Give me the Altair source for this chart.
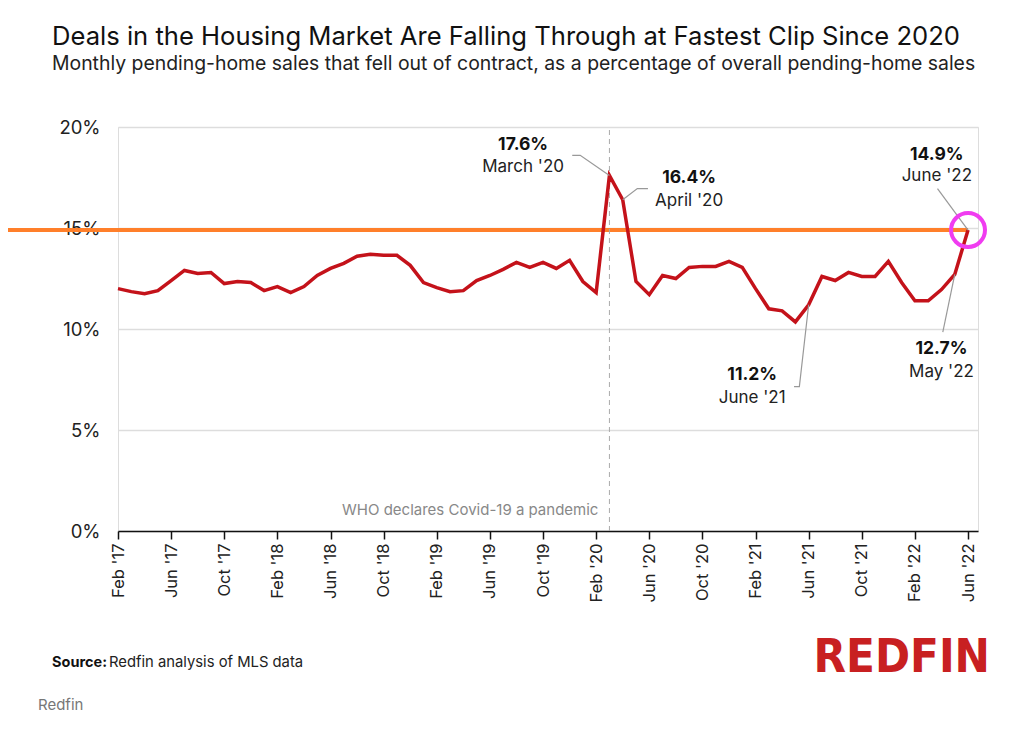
import altair as alt
import pandas as pd

# ---------------- data ----------------
month_labels = list(pd.date_range("2017-02-01", periods=65, freq="MS").strftime("%b '%y"))
fallout_pct = [
    12.0, 11.85, 11.75, 11.9, 12.4, 12.9, 12.75, 12.8, 12.25, 12.35, 12.3,   # Feb'17-Dec'17
    11.9, 12.1, 11.8, 12.1, 12.65, 13.0, 13.25, 13.6, 13.7, 13.65, 13.65, 13.15,  # 2018
    12.3, 12.05, 11.85, 11.9, 12.4, 12.65, 12.95, 13.3, 13.05, 13.3, 13.0, 13.4,  # 2019
    12.35, 11.8, 17.6, 16.4, 12.35, 11.7, 12.65, 12.5, 13.05, 13.1, 13.1, 13.35,  # 2020
    13.05, 12.0, 11.0, 10.9, 10.35, 11.2, 12.6, 12.4, 12.8, 12.6, 12.6, 13.35,    # 2021
    12.3, 11.4, 11.4, 11.95, 12.7, 14.9,                                           # 2022
]
tick_labels = ["Feb '17", "Jun '17", "Oct '17", "Feb '18", "Jun '18", "Oct '18",
               "Feb '19", "Jun '19", "Oct '19", "Feb '20", "Jun '20", "Oct '20",
               "Feb '21", "Jun '21", "Oct '21", "Feb '22", "Jun '22"]
y_ticks = [0, 5, 10, 15, 20]

# annotations: bold value, date label, x (month index), y of value line, y of date line
ann_value = ["17.6%", "16.4%", "14.9%", "12.7%", "11.2%"]
ann_date = ["March '20", "April '20", "June '22", "May '22", "June '21"]
ann_x = [30.5, 43.0, 61.65, 62.0, 47.75]
ann_y1 = [19.1, 17.5, 18.6, 9.0, 7.72]
ann_y2 = [18.0, 16.35, 17.55, 7.87, 6.58]

# leader lines (group, x index, y value) in drawing order
lead_group = ["a", "a", "a", "b", "b", "b", "c", "c", "d", "d", "e", "e", "e"]
lead_x = [34.2, 34.8, 37.0, 39.9, 39.1, 38.0, 61.7, 64.0, 63.0, 62.1, 52.0, 51.3, 50.9]
lead_y = [18.6, 18.6, 17.6, 16.95, 16.95, 16.4, 16.95, 14.9, 12.7, 9.85, 11.2, 7.15, 7.15]

who_x = 37          # March '20
highlight_x = 64    # June '22
highlight_y = 14.9

FONT = "Inter"
df = pd.DataFrame({"idx": range(len(fallout_pct)), "month": month_labels, "pct": fallout_pct})
ann_df = pd.DataFrame({"v": ann_value, "d": ann_date, "x": ann_x, "y1": ann_y1, "y2": ann_y2})
lead_df = pd.DataFrame({"g": lead_group, "o": range(len(lead_x)), "x": lead_x, "y": lead_y})

label_expr = "[" + ",".join('"%s"' % t for t in tick_labels) + "][round(datum.value/4)]"

xscale = alt.Scale(domain=[0, 64.75], nice=False, zero=False)
yscale = alt.Scale(domain=[0, 20], nice=False)

base = alt.Chart(df)

line = base.mark_line(color="#c4121a", strokeWidth=3.5, strokeJoin="miter").encode(
    x=alt.X("idx:Q", scale=xscale, title=None,
            axis=alt.Axis(values=list(range(0, 65, 4)), labelExpr=label_expr,
                          labelAngle=270, grid=False, domainColor="#111", domainWidth=1.5,
                          tickColor="#111", tickWidth=1.5, tickSize=8, labelPadding=4,
                          labelFontSize=16.5, labelColor="#222", labelFont=FONT)),
    y=alt.Y("pct:Q", scale=yscale, title=None,
            axis=alt.Axis(values=y_ticks, labelExpr="datum.value + '%'", domain=False,
                          ticks=False, grid=True, gridColor="#dddddd", gridWidth=1.5,
                          labelPadding=18, labelFontSize=18.5, labelColor="#222",
                          labelFont=FONT)),
    tooltip=["month:N", "pct:Q"],
)

one = alt.Data(values=[{}])

who_rule = alt.Chart(one).mark_rule(color="#aaaaaa", strokeDash=[5, 4], strokeWidth=1).encode(
    x=alt.datum(who_x, type="quantitative"),
    y=alt.datum(0, type="quantitative"),
    y2=alt.datum(20),
)
who_text = alt.Chart(one).mark_text(
    text="WHO declares Covid-19 a pandemic", align="right", baseline="middle",
    dx=-11, fontSize=15, color="#888888", font=FONT,
).encode(x=alt.datum(who_x, type="quantitative"), y=alt.datum(1.05, type="quantitative"))

orange = alt.Chart(one).mark_rule(color="#ff7f2a", strokeWidth=4).encode(
    x=alt.datum(-8.9, type="quantitative"),
    x2=alt.datum(highlight_x),
    y=alt.datum(highlight_y, type="quantitative"),
)

leaders = alt.Chart(lead_df).mark_line(color="#999999", strokeWidth=1.2).encode(
    x="x:Q", y="y:Q", detail="g:N", order="o:Q")

ann_bold = alt.Chart(ann_df).mark_text(fontSize=17.5, fontWeight="bold", color="#111",
                                       baseline="middle", font=FONT).encode(
    x="x:Q", y="y1:Q", text="v:N")
ann_norm = alt.Chart(ann_df).mark_text(fontSize=17, color="#222",
                                       baseline="middle", font=FONT).encode(
    x="x:Q", y="y2:Q", text="d:N")

circle = alt.Chart(one).mark_point(shape="circle", size=1150, filled=False,
                                   color="#f03cf0", strokeWidth=4, opacity=1).encode(
    x=alt.datum(highlight_x, type="quantitative"),
    y=alt.datum(highlight_y, type="quantitative"),
)


def txt(s, x, y, **kw):
    return alt.Chart(one).mark_text(text=s, align=kw.pop("align", "left"),
                                    baseline=kw.pop("baseline", "alphabetic"),
                                    font=kw.pop("font", FONT), **kw).encode(
        x=alt.value(x), y=alt.value(y))


title = txt("Deals in the Housing Market Are Falling Through at Fastest Clip Since 2020",
            -66, -82, fontSize=25.6, color="#111")
subtitle = txt("Monthly pending-home sales that fell out of contract, as a percentage of overall pending-home sales",
               -66, -57, fontSize=19.4, color="#222")
src_b = txt("Source:", -66, 540, fontSize=14.5, fontWeight="bold", color="#111")
src_r = txt("Redfin analysis of MLS data", -9, 540, fontSize=14.8, color="#222")
logo = txt("REDFIN", 872, 545, align="right", fontSize=47, fontWeight="bold",
           color="#c82021",
           font="Liberation Sans Narrow, DejaVu Sans Condensed, Roboto Condensed, Roboto")
credit = txt("Redfin", -80, 583, fontSize=15, color="#777777")

chart = alt.layer(
    orange, who_rule, who_text, line, leaders, ann_bold, ann_norm, circle,
    title, subtitle, src_b, src_r, logo, credit,
).properties(
    width=860, height=404,
    padding={"left": 110, "top": 119, "right": 30, "bottom": 190},
    autosize=alt.AutoSizeParams(type="none"),
).configure_view(stroke=None).configure(font=FONT)

chart.save("out.html", embed_options={"renderer": "svg", "actions": False})
